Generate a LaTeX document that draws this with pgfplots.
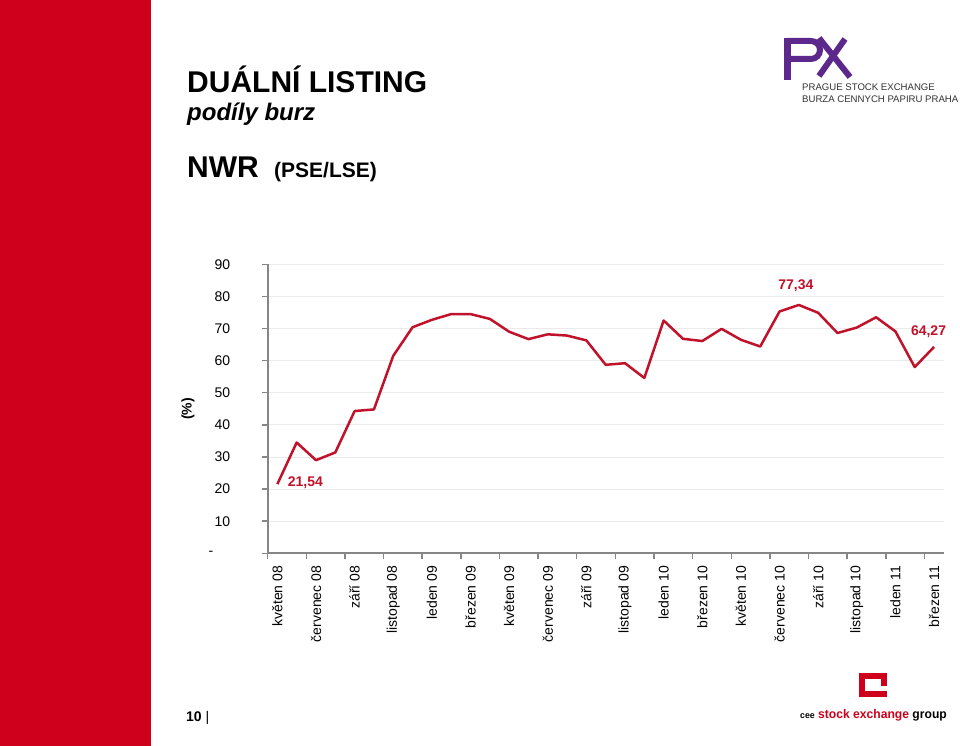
\documentclass[border=0pt]{standalone}
\usepackage{fontspec}
\setmainfont{Liberation Sans}
\usepackage{pgfplots}
\pgfplotsset{compat=1.18}
\definecolor{barred}{RGB}{206,0,28}
\definecolor{linered}{RGB}{192,18,42}
\definecolor{axisgray}{RGB}{134,134,134}
\definecolor{gridgray}{RGB}{234,234,234}
\definecolor{pxpurple}{RGB}{92,40,140}
\definecolor{logotext}{RGB}{50,50,50}
\begin{document}
\begin{tikzpicture}
\path[use as bounding box] (0pt,0pt) rectangle (960pt,746pt);
\fill[white] (0pt,0pt) rectangle (960pt,746pt);
\fill[barred] (0pt,0pt) rectangle (151pt,746pt);
% titles
\node[anchor=base west, inner sep=0pt, font=\bfseries\fontsize{30}{34}\selectfont] at (187pt,653pt) {DUÁLNÍ LISTING};
\node[anchor=base west, inner sep=0pt, font=\bfseries\itshape\fontsize{24}{27}\selectfont] at (187pt,625pt) {podíly burz};
\node[anchor=base west, inner sep=0pt, font=\bfseries\fontsize{30}{34}\selectfont] at (187pt,568pt) {NWR};
\node[anchor=base west, inner sep=0pt, font=\bfseries\fontsize{21}{24}\selectfont] at (274pt,568pt) {(PSE/LSE)};
% PX logo
\fill[pxpurple] (784pt,666pt) rectangle (791pt,708pt);
\draw[pxpurple, line width=6pt] (787pt,705pt) -- (811pt,705pt) arc[start angle=90,end angle=-90,radius=9pt] -- (787pt,687pt);
\draw[pxpurple, line width=6pt] (819pt,708pt) -- (850pt,669pt);
\draw[pxpurple, line width=6pt] (819pt,670pt) -- (845pt,707pt);
\node[anchor=base west, inner sep=0pt, logotext, font=\fontsize{9.6}{11}\selectfont] at (802pt,655pt) {PRAGUE STOCK EXCHANGE};
\node[anchor=base west, inner sep=0pt, logotext, font=\fontsize{9.6}{11}\selectfont] at (802pt,643pt) {BURZA CENNYCH PAPIRU PRAHA};
% CEESEG logo
\draw[barred, line width=6pt] (884pt,60pt) -- (884pt,70pt) -- (862pt,70pt) -- (862pt,52pt) -- (887pt,52pt);
\node[anchor=base west, inner sep=0pt, font=\bfseries\fontsize{12.5}{14}\selectfont, xscale=0.97] at (800pt,27pt) {{\fontsize{9}{10}\selectfont cee} \textcolor{barred}{stock exchange} group};
% page number
\node[anchor=base west, inner sep=0pt, font=\fontsize{14}{16}\selectfont] at (186pt,24pt) {\textbf{10} |};
\begin{axis}[
  at={(267.7pt,192.7pt)}, anchor=south west,
  scale only axis, width=676pt, height=289pt,
  xmin=-0.5, xmax=34.5, ymin=0, ymax=90,
  axis lines=left,
  axis line style={-, axisgray, line width=2pt},
  ytick={0,10,...,90},
  yticklabels={-\hspace*{17pt},10,20,30,40,50,60,70,80,90},
  ymajorgrids,
  grid style={gridgray, line width=0.8pt},
  xtick={0,2,...,34},
  xticklabels={květen 08,červenec 08,září 08,listopad 08,leden 09,březen 09,květen 09,červenec 09,září 09,listopad 09,leden 10,březen 10,květen 10,červenec 10,září 10,listopad 10,leden 11,březen 11},
  minor xtick={-0.5,1.5,...,33.5},
  tick align=outside,
  major tick length=6pt, minor tick length=6pt,
  tick style={axisgray, line width=1.5pt},
  major x tick style={draw=none},
  tick label style={font=\fontsize{14}{16}\selectfont, black},
  xticklabel style={rotate=90, anchor=east},
  yticklabel shift=28pt,
  xticklabel shift=3pt,
  ylabel={(\%)},
  ylabel style={font=\bfseries\fontsize{14}{16}\selectfont, at={(axis description cs:-0.118,0.5)}, anchor=center, rotate=0},
  clip=false,
]
\addplot[linered, line width=2.5pt, line join=round, mark=none] coordinates {
(0,21.54) (1,34.5) (2,29.0) (3,31.4) (4,44.3) (5,44.8) (6,61.5) (7,70.4)
(8,72.7) (9,74.5) (10,74.5) (11,73.0) (12,69.0) (13,66.7) (14,68.2) (15,67.8)
(16,66.3) (17,58.7) (18,59.2) (19,54.6) (20,72.5) (21,66.8) (22,66.1) (23,69.9)
(24,66.5) (25,64.4) (26,75.3) (27,77.34) (28,74.9) (29,68.6) (30,70.3) (31,73.5)
(32,69.1) (33,58.0) (34,64.27)
};
\node[linered, anchor=west, xshift=7pt, yshift=1pt, font=\bfseries\fontsize{14}{16}\selectfont] at (axis cs:0,21.54) {21,54};
\node[linered, anchor=center, xshift=-3pt, yshift=19pt, font=\bfseries\fontsize{14}{16}\selectfont] at (axis cs:27,77.34) {77,34};
\node[linered, anchor=center, xshift=-5.5pt, yshift=15pt, font=\bfseries\fontsize{14}{16}\selectfont] at (axis cs:34,64.27) {64,27};
\end{axis}
\end{tikzpicture}
\end{document}
